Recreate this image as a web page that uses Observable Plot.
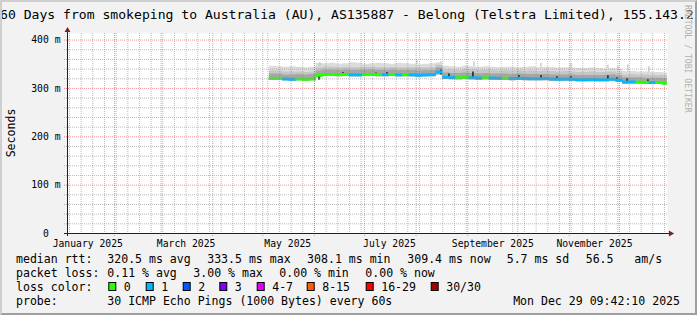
<!DOCTYPE html>
<html><head><meta charset="utf-8">
<script src="https://cdn.jsdelivr.net/npm/d3@7"></script>
<script src="https://cdn.jsdelivr.net/npm/@observablehq/plot@0.6"></script>
<style>
html,body{margin:0;padding:0;background:#f2f2f2;overflow:hidden;}
#chart{position:relative;width:697px;height:315px;overflow:hidden;}
</style></head><body><div id="chart"></div>
<script>
// ---- data ----
const titleText = "360 Days from smokeping to Australia (AU), AS135887 - Belong (Telstra Limited), 155.143.2";
const yTicks = [0, 100, 200, 300, 400];
const yMajor = [100, 200, 300, 400];
const yMinor = [20,40,60,80,120,140,160,180,220,240,260,280,320,340,360,380];
const monthLabels = ["January 2025","March 2025","May 2025","July 2025","September 2025","November 2025"];
const labelDates = ["2025-01-16","2025-03-16","2025-05-16","2025-07-16","2025-09-16","2025-11-16"];

// 4-day bins starting 2025-05-05
const median = [320,320,318.5,318,318.5,318,318.5,
  326,328,328,327.5,328,327,327,328,328,327.5,327.5,328,327,327.5,327,326.5,327,327.5,333,
  322,321.5,321,322,321,320.5,321,320.5,320,320, 319.5,320,319.5,319,319,319.5,318.5,318,318.5,318,
  317,317,317.5,317,317,318,316,312,312.5,312, 311.5,311,311,310];
const lossIdx = [0,0,1,1,0,0,0,
  0,0,0,0,0,1,1,0,0,0,1,0,1,0,1,1,1,1,1,
  1,1,0,0,1,1,0,1,1,0, 1,1,1,1,1,1,1,1,1,1, 1,1,1,1,1,1,1,1,1,0, 0,1,0,0];
const smokeTop = [346,345,344,345,344,343,344,
  352,351,352,350,351,353,352,350,351,352,351,350,352,351,350,349,350,351,353,
  346,345,344,346,345,344,345,344,343,344, 344,343,344,345,343,344,343,342,343,342,
  341,341,342,341,340,341,339,335,335,334, 334,333,333,332];
const smokeQ90 = [336,336,334,334,334,333,334,
  342,344,344,343,344,343,343,344,344,343,343,344,343,343,343,342,343,343,348,
  338,338,337,339,338,337,338,337,336,337, 336,337,336,336,335,336,335,334,335,334,
  333,333,334,333,333,334,332,328,329,328, 328,327,327,326];
const smokeQ75 = [330,330,328,328,329,328,329,
  336,338,338,337,338,337,337,338,338,337,337,338,337,337,337,336,337,337,343,
  332,331,331,332,331,330,331,330,330,330, 329,330,329,329,329,329,328,328,328,328,
  327,327,327,327,327,328,326,322,322,322, 321,321,321,320];
const smokeLo = [317,317,316,315,316,315,316,
  322,325,325,324,325,324,324,325,325,324,324,325,324,324,324,323,324,324,328,
  319,318,318,319,318,317,318,317,317,317, 316,317,316,316,316,316,315,315,315,315,
  314,314,314,314,314,315,313,309,309,309, 308,308,308,307];
// thin max-ping spikes: [time, from, to]
const spikes = [
  ["2025-06-04T06:00",345,353],["2025-08-01T12:00",350,358],["2025-08-15T22:00",352,355],
  ["2025-09-04T17:00",345,355],["2025-10-14T22:00",343,352],["2025-11-01T22:00",342,351],
  ["2025-11-24T02:00",341,348],["2025-11-30T02:00",339,345],["2025-12-06T02:00",335,349],
  ["2025-12-18T17:00",333,345]];
// dark smoke marks: [time, from, to]
const darkMarks = [
  ["2025-06-03T17:00",317,328],["2025-06-06T02:00",325,331],["2025-06-18T02:00",326,333],
  ["2025-07-07T22:00",326,332],["2025-07-14T12:00",326,333],["2025-08-15T22:00",328,338],
  ["2025-08-20T17:00",320,330],["2025-09-04T02:00",319,334],["2025-10-01T17:00",318,327],
  ["2025-10-14T22:00",317,327],["2025-10-24T12:00",317,324],["2025-11-01T22:00",316,324],
  ["2025-11-24T02:00",316,326],["2025-11-29T12:00",314,322],["2025-12-05T12:00",310,320],
  ["2025-12-18T02:00",309,318]];

const statLabels = ["median rtt:", "packet loss:", "loss color:", "probe:"];
const rttStats = ["320.5 ms avg", "333.5 ms max", "308.1 ms min", "309.4 ms now", "5.7 ms sd", "56.5   am/s"];
const lossStats = ["0.11 % avg", "3.00 % max", "0.00 % min", "0.00 % now"];
const lossLabels = ["0","1","2","3","4-7","8-15","16-29","30/30"];
const lossColors = ["#26ff00","#00b8ff","#0059ff","#7e00ff","#dd00ff","#ff5e00","#ff0000","#a10000"];
const probeText = "30 ICMP Echo Pings (1000 Bytes) every 60s";
const stampText = "Mon Dec 29 09:42:10 2025";
const watermark = "RRDTOOL / TOBI OETIKER";

// ---- build ----
const DAY = 864e5;
const start = new Date(Date.UTC(2025,0,3,20));
const end = new Date(Date.UTC(2025,11,29,20));
const binStart = Date.UTC(2025,4,5);
const bins = median.map((m,i) => ({
  x1: new Date(binStart + i*4*DAY),
  x2: new Date(Math.min(binStart + (i+1)*4*DAY, +end)),
  med: m, loss: lossIdx[i], top: smokeTop[i], q90: smokeQ90[i], q75: smokeQ75[i], lo: smokeLo[i]
}));
const rows = bins.map(b => ({x: b.x1, top: b.top, q90: b.q90, q75: b.q75, lo: b.lo}));
const lastB = bins[bins.length-1];
rows.push({x: lastB.x2, top: lastB.top, q90: lastB.q90, q75: lastB.q75, lo: lastB.lo});
const weeks = d3.utcSunday.range(start, end);
const months = d3.utcMonth.range(start, end);
const lblDates = labelDates.map(s => new Date(s + "T00:00Z"));
const gridC = "rgba(143,143,143,0.6)";
const mgridC = "rgba(222,79,79,0.6)";
const font = "'DejaVu Sans Mono', monospace";

const chart = Plot.plot({
  width: 697, height: 315,
  marginLeft: 67, marginRight: 30, marginTop: 33, marginBottom: 82,
  x: {type: "utc", domain: [start, end]},
  y: {domain: [0, 413.6]},
  style: {fontFamily: font, fontSize: "9.72px", background: "#f2f2f2", color: "#000", overflow: "visible"},
  marks: [
    Plot.frame({fill: "#ffffff", stroke: "none"}),
    Plot.areaY(rows, {x: "x", y1: "lo", y2: "top", curve: "step-after", fill: "#dcdcdc", clip: true}),
    Plot.areaY(rows, {x: "x", y1: "lo", y2: "q90", curve: "step-after", fill: "#c6c6c6", clip: true}),
    Plot.areaY(rows, {x: "x", y1: "lo", y2: "q75", curve: "step-after", fill: "#a6a6a6", clip: true}),
    Plot.ruleX(spikes, {x: d => new Date(d[0] + "Z"), y1: d => d[1], y2: d => d[2], stroke: "#b4b4b4", strokeWidth: 1}),
    Plot.ruleX(darkMarks, {x: d => new Date(d[0] + "Z"), y1: d => d[1], y2: d => d[2], stroke: "#1e1e1e", strokeWidth: 1.5}),
    Plot.rect(bins, {x1: "x1", x2: "x2", y1: d => d.med - 3, y2: d => d.med + 3,
      fill: d => lossColors[d.loss], insetLeft: -0.3, insetRight: -0.3, clip: true}),
    Plot.ruleX(weeks, {stroke: gridC, strokeDasharray: "1,1"}),
    Plot.ruleX(months, {stroke: mgridC, strokeDasharray: "1,1", insetBottom: -3}),
    Plot.ruleY(yMinor, {stroke: gridC, strokeDasharray: "1,1", insetLeft: -3}),
    Plot.ruleY(yMajor, {stroke: mgridC, strokeDasharray: "1,1", insetLeft: -3}),
    Plot.ruleY([0], {stroke: "#1f1f1f", insetLeft: -3, insetRight: -3}),
    Plot.ruleX([start], {stroke: "#1f1f1f", insetTop: -3, insetBottom: -3}),
    Plot.dot([0], {x: () => start, y: () => 420, symbol: "triangle", r: 2.2, fill: "#801f1f", stroke: "none"}),
    Plot.dot([0], {x: () => new Date(+end + 1.9*DAY), y: () => 0, symbol: "triangle", rotate: 90, r: 2.2, fill: "#801f1f", stroke: "none"}),
    Plot.axisY({ticks: yTicks, tickFormat: d => d === 0 ? "0\u00a0\u00a0" : d + " m", tickSize: 0, tickPadding: 7, label: null}),
    Plot.axisX({ticks: lblDates, tickFormat: d => monthLabels[lblDates.findIndex(t => +t === +d)], tickSize: 0, tickPadding: 6.5, label: null})
  ]
});
document.getElementById("chart").appendChild(chart);

const svg = d3.select(chart);
const g = svg.append("g").attr("font-family", font).attr("fill", "#000").attr("text-anchor", "start");
// title
g.append("text").attr("x", -7.9).attr("y", 18.5).attr("font-size", 13.1).attr("style", "white-space:pre").text(titleText);
// y label
g.append("text").attr("transform", "translate(15,133) rotate(-90)").attr("text-anchor", "middle")
  .attr("font-size", 11.56).text("Seconds");
// legend
const LF = 11.56;
const base = [263.3, 277.1, 290.8, 304.5];
statLabels.forEach((s, i) => g.append("text").attr("x", 16).attr("y", base[i]).attr("font-size", LF).text(s));
const rttX = [107.3, 207.2, 307.1, 407.3, 506.7, 585.7];
rttStats.forEach((s, i) => g.append("text").attr("x", rttX[i]).attr("y", base[0]).attr("font-size", LF)
  .attr("style", "white-space:pre").text(s));
const lossX = [107.3, 193.3, 279.3, 365.3];
lossStats.forEach((s, i) => g.append("text").attr("x", lossX[i]).attr("y", base[1]).attr("font-size", LF).text(s));
const boxX = [108.3, 145.7, 182.7, 219.3, 256.7, 306.7, 365.7, 430.7];
lossLabels.forEach((s, i) => {
  g.append("rect").attr("x", boxX[i] + 0.5).attr("y", 282.5).attr("width", 7).attr("height", 8)
    .attr("fill", lossColors[i]).attr("stroke", "#000").attr("stroke-width", 1);
  g.append("text").attr("x", boxX[i] + 15.5).attr("y", base[2]).attr("font-size", LF).text(s);
});
g.append("text").attr("x", 107.3).attr("y", base[3]).attr("font-size", LF).text(probeText);
g.append("text").attr("x", 680).attr("y", base[3]).attr("font-size", LF).attr("text-anchor", "end").text(stampText);
// watermark
g.append("text").attr("transform", "translate(684.5,5) rotate(90)").attr("font-size", 8.15)
  .attr("fill", "#b0b0b0").text(watermark);
// 3d frame
svg.append("path").attr("d", "M0,315 L2,313 L2,2 L695,2 L697,0 L0,0 Z").attr("fill", "#cfcfcf");
svg.append("path").attr("d", "M2,313 L695,313 L695,2 L697,0 L697,315 L0,315 Z").attr("fill", "#9e9e9e");
</script></body></html>
